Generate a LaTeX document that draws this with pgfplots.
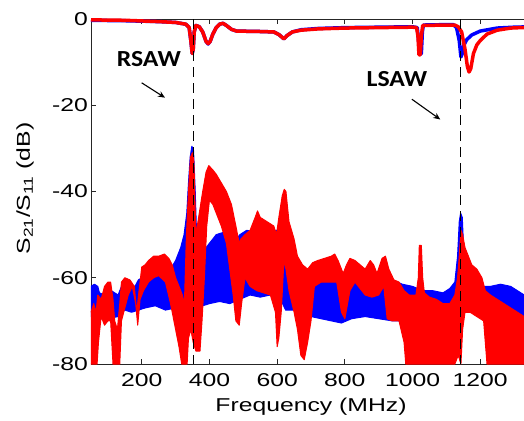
\documentclass[border=0pt]{standalone}
\usepackage{fontspec}
\setmainfont{Liberation Sans}[FakeStretch=1.33]
\newfontfamily\annotfont{Carlito}[FakeStretch=1.12]
\usepackage{pgfplots}
\pgfplotsset{compat=1.18}
\usetikzlibrary{arrows.meta}
\newcommand\lblfont{\fontsize{18.6bp}{22bp}\selectfont}

\begin{document}
\begin{tikzpicture}
\path[use as bounding box] (-91bp,-57bp) rectangle (433bp,364bp);
\begin{axis}[
  at={(0,0)}, anchor=south west,
  scale only axis, width=440bp, height=345bp,
  xmin=50, xmax=1350, ymin=-80, ymax=0,
  xtick={200,400,...,1200}, ytick={-80,-60,...,0},
  tick align=inside, major tick length=5bp,
  axis line style={line width=0.9bp, black!85},
  every tick/.style={line width=0.9bp, black!85},
  tick label style={font=\lblfont},
  /pgf/number format/assume math mode=true,
  /pgf/number format/1000 sep={},
  xticklabel style={inner sep=0pt, yshift=-9bp},
  yticklabel style={inner sep=0pt, xshift=-3bp},
  xlabel={Frequency (MHz)},
  ylabel={S\textsubscript{21}/S\textsubscript{11} (dB)},
  label style={font=\lblfont},
  xlabel style={at={(axis description cs:0.5,0)}, anchor=base, yshift=-47.7bp},
  ylabel style={at={(axis description cs:-0.15,0.509)}, anchor=center, rotate=0},
  clip=false,
]
% S11, blue
\addplot[blue, line width=3.5bp, line join=round] coordinates {
(50,-0.3)(150,-0.4)(250,-0.6)(300,-0.8)(330,-1.2)(340,-2)(345,-5)(349,-8)(352,-7)
(355,-3)(360,-1.5)(370,-1.8)(380,-3)(390,-5.2)(396,-5.8)(402,-5.2)(410,-3.5)
(420,-2)(430,-1.2)(440,-1)(450,-1.5)(465,-2.4)(480,-2.8)(550,-2.9)(590,-3)
(605,-3.6)(620,-4.6)(630,-3.8)(645,-3)(670,-2.5)(720,-2.2)(800,-2)(900,-1.9)
(1000,-1.8)(1014,-2)(1019,-6)(1022,-8.2)(1026,-8)(1029,-3)(1032,-1.4)(1100,-1.3)
(1120,-1.3)(1130,-2)(1138,-5)(1143,-8.8)(1147,-8)(1152,-6)(1160,-4.8)(1175,-3.7)
(1200,-2.8)(1250,-2.1)(1300,-1.9)(1350,-1.8)};
% S21, blue (noise band: upper edge then lower edge)
\addplot[blue, fill=blue, line width=1bp, line join=round] coordinates {
(50,-62)(60,-61.5)(70,-62)(75,-63.5)(90,-64)(110,-63)(130,-64)(140,-62)(160,-61.5)
(180,-62)(190,-60.5)(210,-59.5)(230,-60)(250,-59)(270,-59)(285,-58)(300,-56)
(315,-53)(325,-50)(333,-45)(338,-38)(343,-32)(348,-29.5)(353,-30.5)(358,-40)
(362,-50)(370,-53)(380,-55)(390,-53)(400,-52)(420,-50)(440,-49.5)(460,-50)
(480,-51)(490,-50)(510,-49)(540,-49.5)(570,-49)(600,-49)(612,-48)(620,-46)
(625,-47)(630,-53)(645,-55)(660,-58)(675,-60)(690,-61)(720,-60.5)(760,-61)
(800,-61)(830,-60)(860,-61)(900,-60.5)(940,-60.5)(970,-61.5)(1000,-62)(1030,-63)
(1060,-63)(1090,-63.5)(1110,-62.5)(1125,-61)(1133,-55)(1138,-47)(1142,-45)
(1147,-46)(1152,-55)(1158,-60)(1175,-61.5)(1200,-62)(1230,-62)(1260,-61.5)
(1290,-62)(1310,-63)(1330,-64)(1350,-64)
(1350,-70)(1300,-69)(1260,-68)(1220,-67)(1180,-67)(1160,-67)(1145,-68)(1120,-70)
(1080,-69)(1040,-68)(1000,-69)(970,-70)(940,-70)(900,-69.5)(860,-69)(820,-69.5)
(790,-70.5)(760,-70)(730,-69.5)(700,-69)(680,-68)(660,-67.5)(640,-67.5)(625,-67.5)
(610,-65)(580,-64)(550,-64.5)(520,-64)(490,-65)(460,-66)(430,-65.5)(400,-66)
(380,-66.5)(365,-67)(345,-67)(330,-67)(300,-67)(270,-67.5)(240,-66.5)(210,-67)
(190,-67.5)(170,-68)(150,-67.5)(130,-69)(100,-69.5)(75,-69.5)(50,-69)};
% S21, red (noise band: upper edge then lower edge)
\addplot[red, fill=red, line width=1bp, line join=round] coordinates {
(50,-68)(58,-66)(65,-68)(70,-64)(80,-65)(90,-62)(100,-61)(108,-61)(115,-65)
(120,-70)(128,-72)(135,-66)(140,-61)(150,-60)(165,-60.5)(178,-62)(185,-68)
(192,-63)(200,-57.5)(210,-57)(220,-56)(235,-55)(250,-55)(267,-54.5)(280,-55.5)
(290,-57)(300,-60)(310,-62)(320,-64)(326,-66)(332,-50)(338,-40)(344,-32)(350,-31)
(354,-33)(360,-50)(370,-45)(380,-40)(390,-35.5)(398,-34)(410,-35)(420,-36)
(435,-38)(450,-40)(465,-43)(478,-48)(488,-52)(493,-51)(505,-50)(520,-49)(535,-46)
(542,-44.5)(550,-46)(570,-47)(590,-48)(598,-50)(605,-46)(615,-41)(621,-39.5)
(626,-40)(635,-47)(650,-51)(660,-55)(675,-57)(690,-58)(705,-56.5)(720,-56)
(740,-55.5)(760,-55)(770,-54.5)(780,-56)(795,-59)(805,-57)(815,-55.5)(830,-56)
(845,-57)(860,-58)(875,-56)(885,-57)(895,-59)(910,-55.5)(920,-55)(930,-58)
(945,-60.5)(960,-61)(975,-63)(990,-64)(1010,-64)(1017,-60)(1020,-52.5)(1026,-52.5)
(1030,-60)(1035,-63.5)(1050,-64.5)(1070,-65)(1090,-66)(1110,-66)(1125,-64)
(1133,-60)(1138,-55)(1143,-49)(1148,-50)(1155,-53)(1165,-55)(1175,-57)(1190,-58)
(1205,-60)(1215,-63)(1230,-64)(1250,-65)(1270,-66)(1290,-67)(1310,-68)(1330,-69)
(1350,-69)
(1350,-80)(1220,-80)(1210,-70)(1190,-69)(1170,-68)(1155,-68)(1148,-72)(1143,-80)
(1135,-78)(1125,-80)(980,-80)(975,-75)(960,-70)(940,-70)(925,-69.5)(915,-62)
(900,-64)(880,-64.5)(860,-64)(840,-62)(830,-61)(815,-63)(800,-69.5)(790,-68)
(776,-61)(750,-61)(730,-61)(710,-62)(700,-70)(690,-75)(680,-79)(670,-78)(660,-72)
(650,-68)(635,-63)(626,-58)(620,-56)(612,-68)(605,-74)(600,-76)(595,-68)(580,-64)
(560,-63.5)(540,-63)(520,-62)(505,-60)(495,-66)(488,-71)(478,-70)(470,-64)
(460,-58)(450,-52)(435,-48)(420,-45)(410,-43)(400,-42)(392,-48)(385,-60)(378,-70)
(372,-77)(360,-77)(352,-75)(345,-72)(338,-74)(334,-80)(318,-80)(310,-76)(300,-72)
(285,-66)(270,-61)(250,-59.5)(235,-60)(220,-61)(205,-63)(195,-65)(188,-71)
(182,-66)(172,-62)(160,-64)(150,-67)(140,-70)(135,-80)(115,-80)(108,-70)(100,-70)
(90,-71)(80,-69)(72,-75)(68,-80)(50,-80)};
% S11, red
\addplot[red, line width=3.5bp, line join=round] coordinates {
(50,-0.2)(150,-0.3)(250,-0.6)(300,-0.8)(330,-1.2)(340,-2)(345,-5)(349,-8)(352,-7)
(355,-3)(360,-1.5)(370,-1.8)(380,-3)(390,-5.2)(396,-5.7)(402,-5.2)(410,-3.5)
(420,-2)(430,-1.2)(440,-1)(450,-1.5)(465,-2.4)(480,-2.8)(550,-2.9)(590,-3)
(605,-3.6)(620,-4.6)(630,-3.8)(645,-3)(670,-2.6)(720,-2.3)(800,-2.1)(900,-2)
(1000,-1.9)(1012,-2)(1016,-4)(1019,-8.3)(1023,-8.3)(1026,-4)(1030,-1.5)(1100,-1.4)
(1125,-1.4)(1135,-1.8)(1145,-3)(1155,-7)(1162,-11)(1167,-12.3)(1172,-11.5)
(1180,-8)(1190,-6)(1200,-5)(1220,-3.5)(1250,-2.6)(1290,-2.1)(1350,-1.9)};
% resonance markers
\addplot[black, line width=0.9bp, dash pattern=on 10bp off 6bp] coordinates {(353,0)(353,-80)};
\addplot[black, line width=0.9bp, dash pattern=on 10bp off 6bp] coordinates {(1143,0)(1143,-80)};
\node[font=\annotfont\bfseries\fontsize{23bp}{26bp}\selectfont] at (axis cs:221,-9.35) {RSAW};
\node[font=\annotfont\bfseries\fontsize{23bp}{26bp}\selectfont] at (axis cs:954,-14) {LSAW};
\draw[line width=1.1bp, -{Stealth[length=7bp,width=6bp]}] (axis cs:199.8,-14.8) -- (axis cs:268.6,-18.25);
\draw[line width=1.1bp, -{Stealth[length=7bp,width=6bp]}] (axis cs:998,-18.6) -- (axis cs:1082,-23.3);
\end{axis}
\end{tikzpicture}
\end{document}
